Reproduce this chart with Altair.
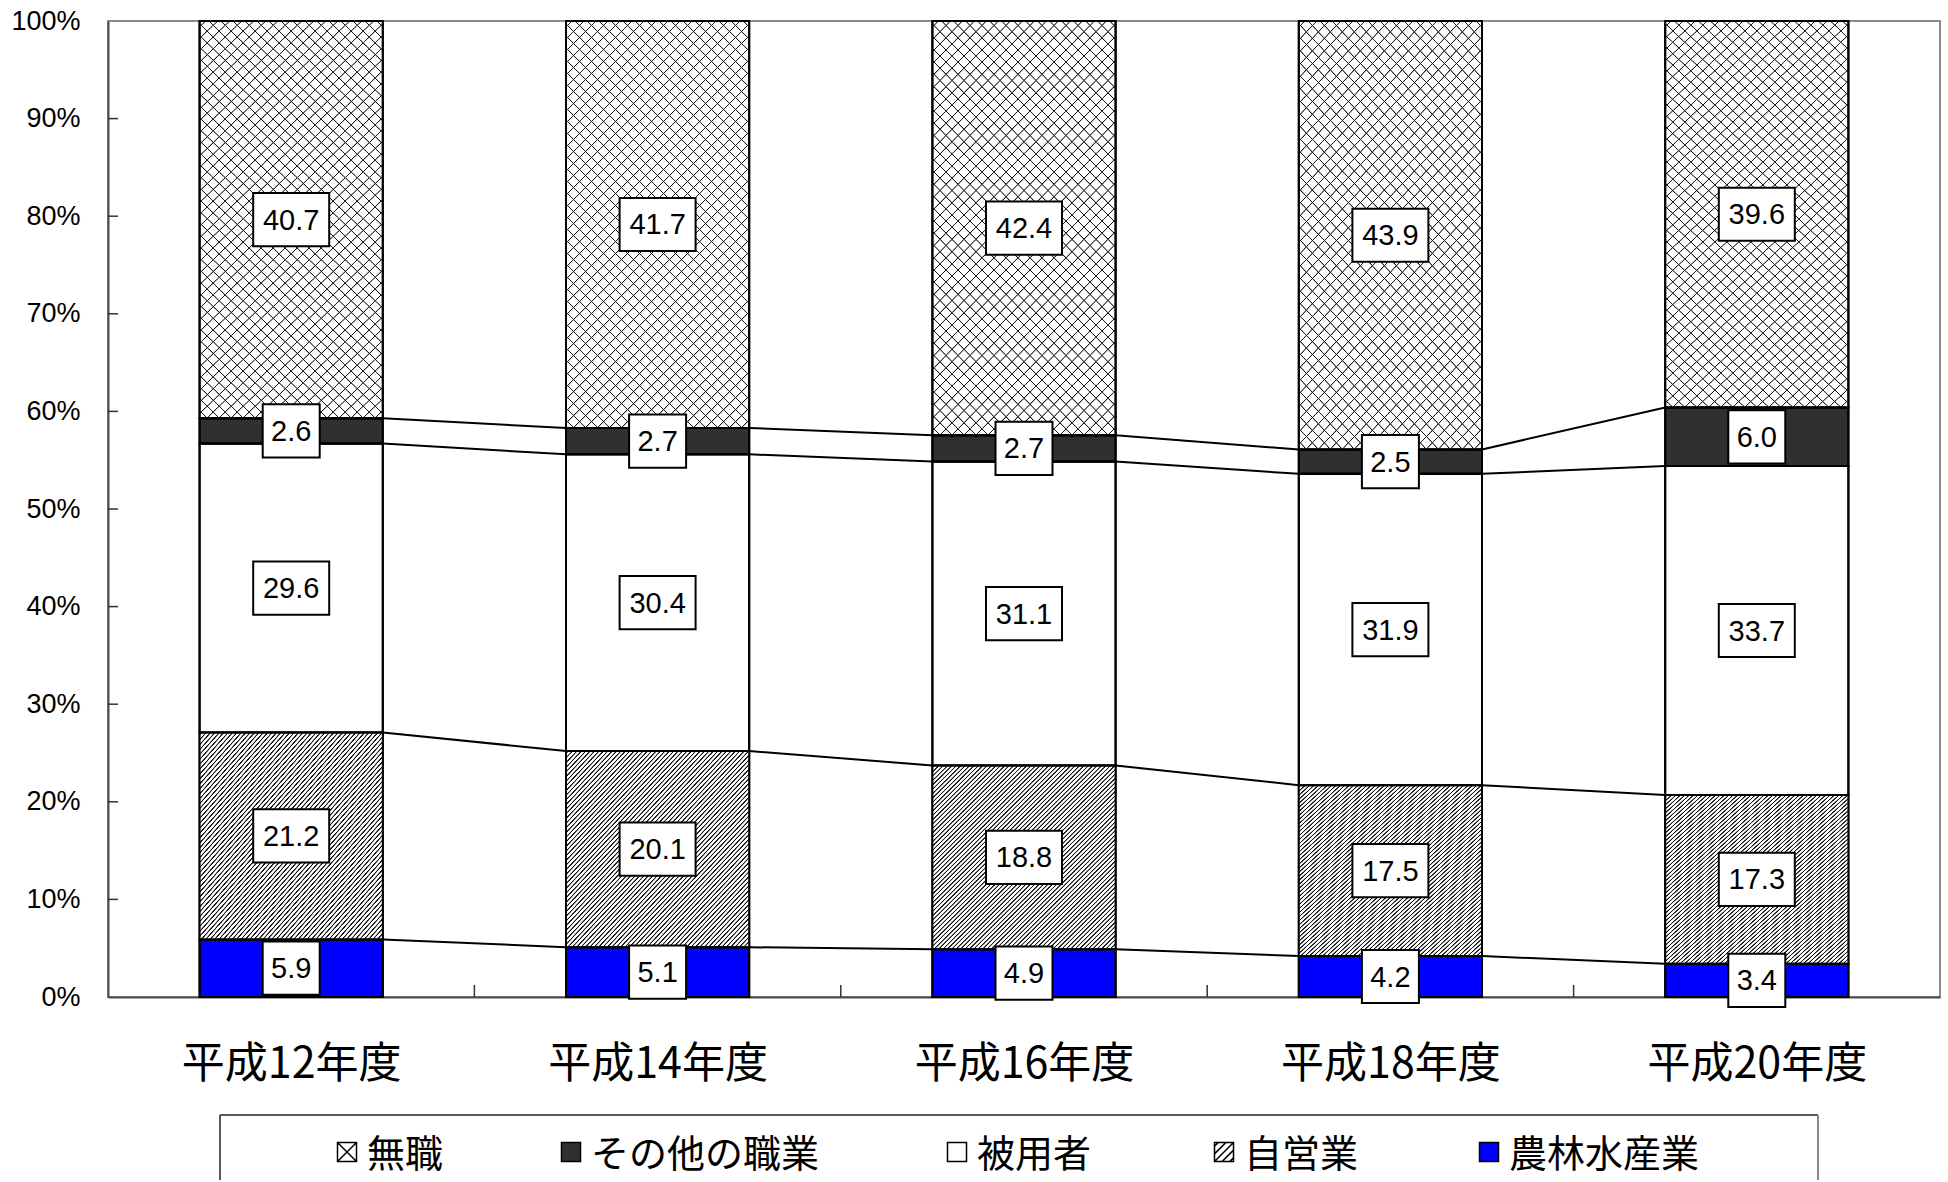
import json

import altair as alt
import pandas as pd

# ---------------------------------------------------------------- data
YEARS = ["平成12年度", "平成14年度", "平成16年度", "平成18年度", "平成20年度"]

# share (%) of each occupation group, one value per survey year
AGRI = [5.9, 5.1, 4.9, 4.2, 3.4]                 # 農林水産業
SELF_EMPLOYED = [21.2, 20.1, 18.8, 17.5, 17.3]   # 自営業
EMPLOYEE = [29.6, 30.4, 31.1, 31.9, 33.7]        # 被用者
OTHER_JOB = [2.6, 2.7, 2.7, 2.5, 6.0]            # その他の職業
NO_JOB = [40.7, 41.7, 42.4, 43.9, 39.6]          # 無職

Y_TICKS = [0.0, 0.1, 0.2, 0.3, 0.4, 0.5, 0.6, 0.7, 0.8, 0.9, 1.0]

# stacking order, bottom to top
STACK = [
    ("農林水産業", AGRI),
    ("自営業", SELF_EMPLOYED),
    ("被用者", EMPLOYEE),
    ("その他の職業", OTHER_JOB),
    ("無職", NO_JOB),
]
LEGEND_ORDER = ["無職", "その他の職業", "被用者", "自営業", "農林水産業"]

# ---------------------------------------------------------------- layout / style
W, H = 1832, 976
PAD = {"left": 108, "top": 21, "right": 8, "bottom": 183}
HALF = 0.25            # half bar width, in category steps
BAR_PX = W / len(YEARS) * 2 * HALF

NUM_FONT = "Liberation Sans, Arial, sans-serif"
CJK_FONT = "Noto Sans CJK JP, sans-serif"

BASE_COLORS = ["white", "#303030", "white", "white", "#0000ff"]  # in LEGEND_ORDER

# legend row: symbol centres and text baseline, in pixels from the plot origin
LEGEND_X = [239, 463, 849, 1116, 1381]
LEGEND_Y = 1131
LEGEND_GAP = 20

# ---------------------------------------------------------------- tables
rows = []
for i, year in enumerate(YEARS):
    total = sum(vals[i] for _, vals in STACK)
    cum = 0.0
    for name, vals in STACK:
        v = vals[i]
        y0 = cum / total
        cum += v
        y1 = cum / total
        rows.append(dict(i=i, year=year, series=name, value=v, label=f"{v:.1f}",
                         left=i - HALF, right=i + HALF, y0=y0, y1=y1, mid=(y0 + y1) / 2))
bars = pd.DataFrame(rows)

top_of = {(r["i"], r["series"]): r["y1"] for r in rows}
links = []
for i in range(len(YEARS) - 1):
    for name, _ in STACK[:-1]:
        links.append(dict(cx0=i + HALF, cx1=i + 1 - HALF,
                          cy0=top_of[(i, name)], cy1=top_of[(i + 1, name)]))
links = pd.DataFrame(links)

yticks = pd.DataFrame({"v": Y_TICKS[1:-1]})
xticks = pd.DataFrame({"b": [i + 0.5 for i in range(len(YEARS) - 1)]})
one = pd.DataFrame({"k": [0]})


# ---------------------------------------------------------------- hatching
def stripes(period_px, w, h, core_px, ramp_px, ink, paper, falling=False):
    """Linear gradient drawing anti-aliased 45-degree hatch lines."""
    r = h / w
    a = (1 + r) / (1 + r * r)
    b = r * a
    span = w + h
    p = period_px / span
    c = core_px / span / 2
    rp = ramp_px / span
    stops = [alt.GradientStop(offset=0, color=paper)]
    k = 0
    while (k + 0.5) * p - c - rp <= 1:
        mid = (k + 0.5) * p
        for off, col in ((mid - c - rp, paper), (mid - c, ink),
                         (mid + c, ink), (mid + c + rp, paper)):
            if 0 <= off <= 1:
                stops.append(alt.GradientStop(offset=round(off, 6), color=col))
        k += 1
    if falling:
        x1, y1, x2, y2 = 1, 0, 1 - a, b
    else:
        x1, y1, x2, y2 = 0, 0, a, b
    return alt.LinearGradient(gradient="linear", stops=stops,
                              x1=x1, y1=y1, x2=round(x2, 5), y2=round(y2, 5))


def mean_height(vals):
    shares = [vals[i] / sum(v[i] for _, v in STACK) for i in range(len(YEARS))]
    return sum(shares) / len(shares) * H


h_self = mean_height(SELF_EMPLOYED)
h_none = mean_height(NO_JOB)
CLEAR = "rgba(255,255,255,0)"
SELF_FILL = stripes(4.4, BAR_PX, h_self, 0.9, 0.6, "#111111", "white")
NONE_FILL_A = stripes(12, BAR_PX, h_none, 0.7, 0.7, "#1a1a1a", CLEAR)
NONE_FILL_B = stripes(12, BAR_PX, h_none, 0.7, 0.7, "#1a1a1a", CLEAR, falling=True)

# ---------------------------------------------------------------- scales / axes
x_scale = alt.Scale(domain=[-0.5, len(YEARS) - 0.5], nice=False, zero=False)
y_scale = alt.Scale(domain=[0, 1], nice=False)

x_axis = alt.Axis(values=list(range(len(YEARS))),
                  labelExpr=json.dumps(YEARS, ensure_ascii=False) + "[datum.value]",
                  title=None, ticks=False, grid=False, labelFlush=False,
                  domainColor="#4d4d4d", domainWidth=2, labelLimit=600,
                  labelFont=CJK_FONT, labelFontSize=43, labelColor="black",
                  labelPadding=46, labelAngle=0)
y_axis = alt.Axis(values=Y_TICKS, format=".0%", title=None, ticks=False, grid=False,
                  labelFlush=False, domainColor="#4d4d4d", domainWidth=2,
                  labelFont=NUM_FONT, labelFontSize=27, labelColor="black",
                  labelPadding=28)

X = alt.X("left:Q", scale=x_scale, axis=x_axis)
X2 = alt.X2("right:Q")
Y = alt.Y("y0:Q", scale=y_scale, axis=y_axis)
Y2 = alt.Y2("y1:Q")

SQUARE = "M-1,-1H1V1H-1Z"
LEGEND_SHAPES = [
    SQUARE + "M-1,-1L1,1M1,-1L-1,1",
    SQUARE,
    SQUARE,
    SQUARE + "M-1,0.2L0.2,-1M-1,1L1,-1M-0.2,1L1,-0.2M-1,-0.6L-0.6,-1M0.6,1L1,0.6",
    SQUARE,
]

# box outline around the value labels (custom symbol, unit = 38 px)
BOX_SIZE = 76 * 76
BOX_WIDE = "M-1,-0.7H1V0.7H-1Z"
BOX_NARROW = "M-0.75,-0.7H0.75V0.7H-0.75Z"

# ---------------------------------------------------------------- layers
base = alt.Chart(bars)

bar_fill = base.mark_rect(stroke="black", strokeWidth=2).encode(
    x=X, x2=X2, y=Y, y2=Y2,
    color=alt.Color("series:N", scale=alt.Scale(domain=LEGEND_ORDER, range=BASE_COLORS),
                    legend=None),
)
self_hatch = base.transform_filter(alt.datum.series == "自営業").mark_rect(
    fill=SELF_FILL).encode(x=X, x2=X2, y=Y, y2=Y2)
none_hatch_a = base.transform_filter(alt.datum.series == "無職").mark_rect(
    fill=NONE_FILL_A).encode(x=X, x2=X2, y=Y, y2=Y2)
none_hatch_b = base.transform_filter(alt.datum.series == "無職").mark_rect(
    fill=NONE_FILL_B).encode(x=X, x2=X2, y=Y, y2=Y2)
outline = base.mark_rect(fill="transparent", stroke="black", strokeWidth=2).encode(
    x=X, x2=X2, y=Y, y2=Y2)

connectors = alt.Chart(links).mark_rule(color="black", strokeWidth=2).encode(
    x=alt.X("cx0:Q", scale=x_scale, axis=x_axis), x2="cx1:Q",
    y=alt.Y("cy0:Q", scale=y_scale, axis=y_axis), y2="cy1:Q",
)

label_boxes = base.mark_point(filled=True, fill="white", stroke="black",
                              strokeWidth=2, size=BOX_SIZE, opacity=1).encode(
    x=alt.X("i:Q", scale=x_scale, axis=x_axis),
    y=alt.Y("mid:Q", scale=y_scale, axis=y_axis),
    shape=alt.condition("length(datum.label) > 3", alt.value(BOX_WIDE), alt.value(BOX_NARROW)),
)
label_text = base.mark_text(font=NUM_FONT, fontSize=29, color="black",
                            align="center", baseline="middle", dy=1).encode(
    x=alt.X("i:Q", scale=x_scale, axis=x_axis),
    y=alt.Y("mid:Q", scale=y_scale, axis=y_axis),
    text="label:N",
)

y_inner_ticks = alt.Chart(yticks).mark_rule(color="#333333", strokeWidth=1.5).encode(
    y=alt.Y("v:Q", scale=y_scale, axis=y_axis), x=alt.value(0), x2=alt.value(10))
x_inner_ticks = alt.Chart(xticks).mark_rule(color="#333333", strokeWidth=1.5).encode(
    x=alt.X("b:Q", scale=x_scale, axis=x_axis), y=alt.value(H - 12), y2=alt.value(H))

# legend frame (its bottom edge runs off the page)
frame_top = alt.Chart(one).mark_rule(color="#222222", strokeWidth=1.5).encode(
    x=alt.value(112), x2=alt.value(1710), y=alt.value(1094))
frame_left = alt.Chart(one).mark_rule(color="#222222", strokeWidth=1.5).encode(
    x=alt.value(112), y=alt.value(1094), y2=alt.value(H + PAD["bottom"]))
frame_right = alt.Chart(one).mark_rule(color="#888888", strokeWidth=2).encode(
    x=alt.value(1710), y=alt.value(1094), y2=alt.value(H + PAD["bottom"]))

# legend entries: swatch + name
legend_layers = []
for k, name in enumerate(LEGEND_ORDER):
    item = alt.Chart(pd.DataFrame({"label": [name]}))
    legend_layers.append(item.mark_point(
        filled=True, fill=BASE_COLORS[k], stroke="black", strokeWidth=1.5,
        size=361, shape=LEGEND_SHAPES[k], opacity=1,
    ).encode(x=alt.value(LEGEND_X[k]), y=alt.value(LEGEND_Y)))
    legend_layers.append(item.mark_text(
        font=CJK_FONT, fontSize=38, color="black", align="left", baseline="middle",
    ).encode(x=alt.value(LEGEND_X[k] + LEGEND_GAP), y=alt.value(LEGEND_Y + 4),
             text="label:N"))

chart = alt.layer(
    bar_fill, self_hatch, none_hatch_a, none_hatch_b, outline,
    connectors, label_boxes, label_text,
    y_inner_ticks, x_inner_ticks,
    frame_top, frame_left, frame_right,
    *legend_layers,
).properties(
    width=W, height=H, padding=PAD,
    autosize=alt.AutoSizeParams(type="none"),
    background="white",
).configure_view(stroke="#8c8c8c", strokeWidth=2)

chart.save("out.html", embed_options={"renderer": "svg", "actions": False})
